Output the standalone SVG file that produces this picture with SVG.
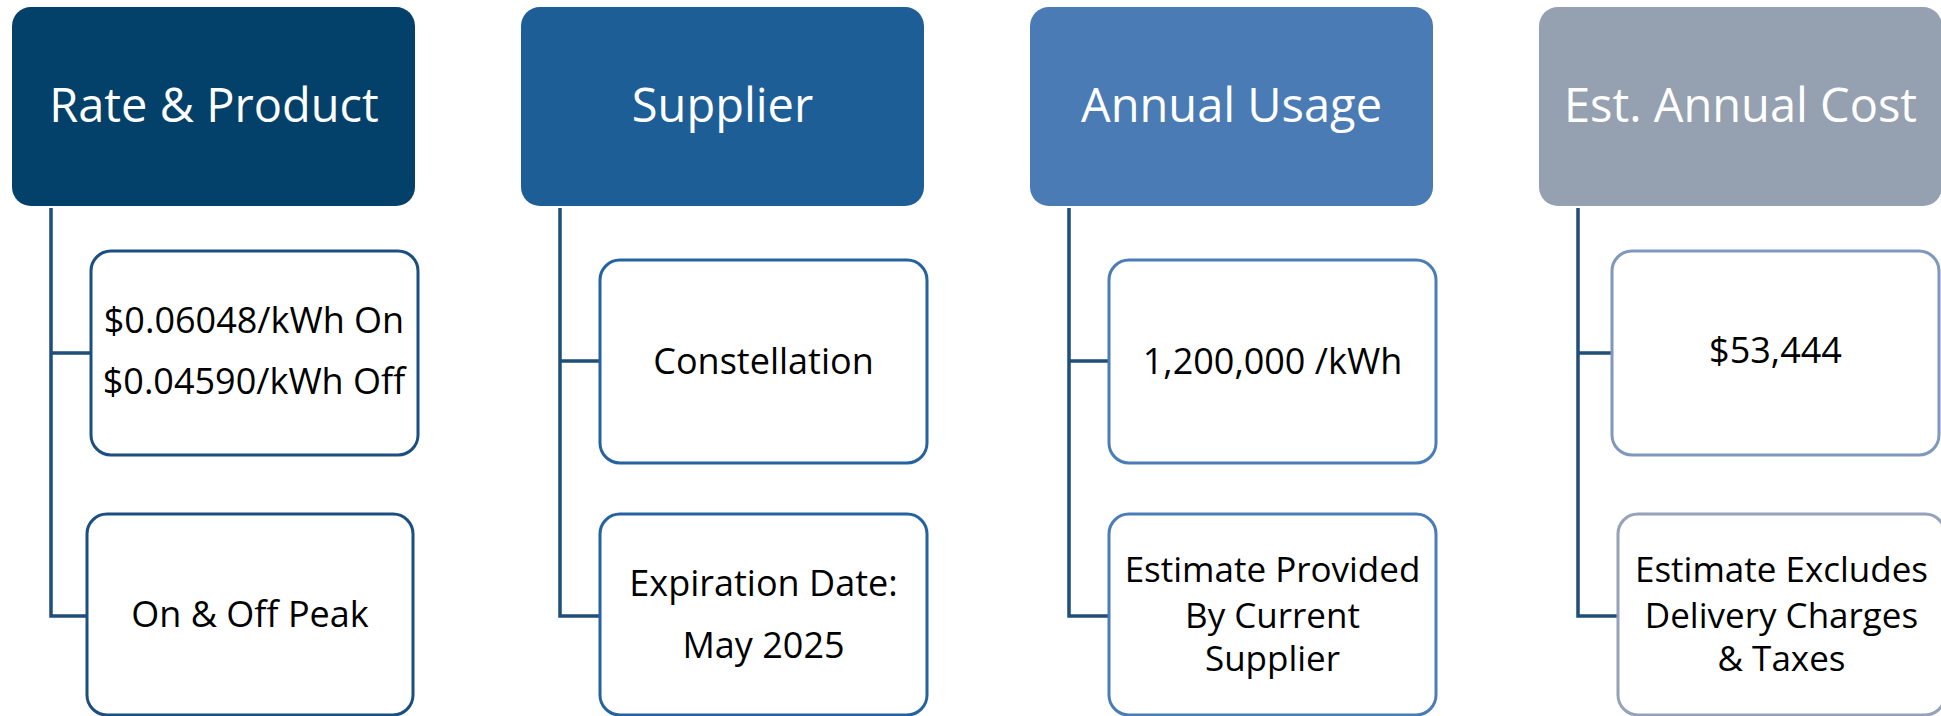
<svg xmlns="http://www.w3.org/2000/svg" width="1941" height="716" viewBox="0 0 1941 716">
<style>
.hdr{stroke:none}
.h-t{font-family:"Open Sans","Noto Sans",sans-serif;font-size:47px;fill:#ffffff;text-anchor:middle}
.c-t{font-family:"Open Sans","Noto Sans",sans-serif;font-size:36px;fill:#000000;text-anchor:middle}
.c-s{font-size:35px}
.child{fill:#ffffff;stroke-width:3}
.conn{fill:none;stroke:#1F4E79;stroke-width:3.5}
</style>
<rect width="1941" height="716" fill="#ffffff"/>
<g id="connectors">
<path class="conn" d="M51,208 V616 H87 M51,353 H91"/>
<path class="conn" d="M560,208 V616 H600 M560,361 H600"/>
<path class="conn" d="M1069,208 V616 H1109 M1069,361 H1109"/>
<path class="conn" d="M1578,208 V616 H1618 M1578,353 H1612"/>
</g>
<g id="rate-product">
<rect class="hdr" x="12" y="7" width="403" height="199" rx="19" fill="#03416A"/>
<text class="h-t" x="214" y="122">Rate &amp; Product</text>
</g>
<g id="rate-values">
<rect class="child" x="91" y="251" width="327" height="204" rx="20" stroke="#1B4F82"/>
<text class="c-t" x="254" y="333">$0.06048/kWh On</text>
<text class="c-t" x="254" y="393.5">$0.04590/kWh Off</text>
</g>
<g id="rate-type">
<rect class="child" x="87" y="514" width="326" height="201" rx="20" stroke="#1B4F82"/>
<text class="c-t" x="250" y="626.5">On &amp; Off Peak</text>
</g>
<g id="supplier">
<rect class="hdr" x="521" y="7" width="403" height="199" rx="19" fill="#1D5E96"/>
<text class="h-t" x="722.5" y="122">Supplier</text>
</g>
<g id="supplier-name">
<rect class="child" x="600" y="260" width="327" height="203" rx="20" stroke="#2562A0"/>
<text class="c-t" x="763.5" y="373.5">Constellation</text>
</g>
<g id="supplier-exp">
<rect class="child" x="600" y="514" width="327" height="201" rx="20" stroke="#2562A0"/>
<text class="c-t" x="763.5" y="596">Expiration Date:</text>
<text class="c-t" x="763.5" y="657.5">May 2025</text>
</g>
<g id="annual-usage">
<rect class="hdr" x="1030" y="7" width="403" height="199" rx="19" fill="#4A7BB4"/>
<text class="h-t" x="1231.5" y="122">Annual Usage</text>
</g>
<g id="usage-value">
<rect class="child" x="1109" y="260" width="327" height="203" rx="20" stroke="#4A7DB8"/>
<text class="c-t" x="1272.5" y="373.5">1,200,000 /kWh</text>
</g>
<g id="usage-note">
<rect class="child" x="1109" y="514" width="327" height="201" rx="20" stroke="#4A7DB8"/>
<text class="c-t c-s" x="1272.5" y="582">Estimate Provided</text>
<text class="c-t c-s" x="1272.5" y="628">By Current</text>
<text class="c-t c-s" x="1272.5" y="671">Supplier</text>
</g>
<g id="annual-cost">
<rect class="hdr" x="1539" y="7" width="403" height="199" rx="19" fill="#95A0B1"/>
<text class="h-t" x="1740.5" y="122">Est. Annual Cost</text>
</g>
<g id="cost-value">
<rect class="child" x="1612" y="251" width="327" height="204" rx="20" stroke="#7F98BC"/>
<text class="c-t" x="1775.5" y="363">$53,444</text>
</g>
<g id="cost-note">
<rect class="child" x="1618" y="514" width="327" height="201" rx="20" stroke="#95A2B7"/>
<text class="c-t c-s" x="1781.5" y="582">Estimate Excludes</text>
<text class="c-t c-s" x="1781.5" y="628">Delivery Charges</text>
<text class="c-t c-s" x="1781.5" y="671">&amp; Taxes</text>
</g>
</svg>
